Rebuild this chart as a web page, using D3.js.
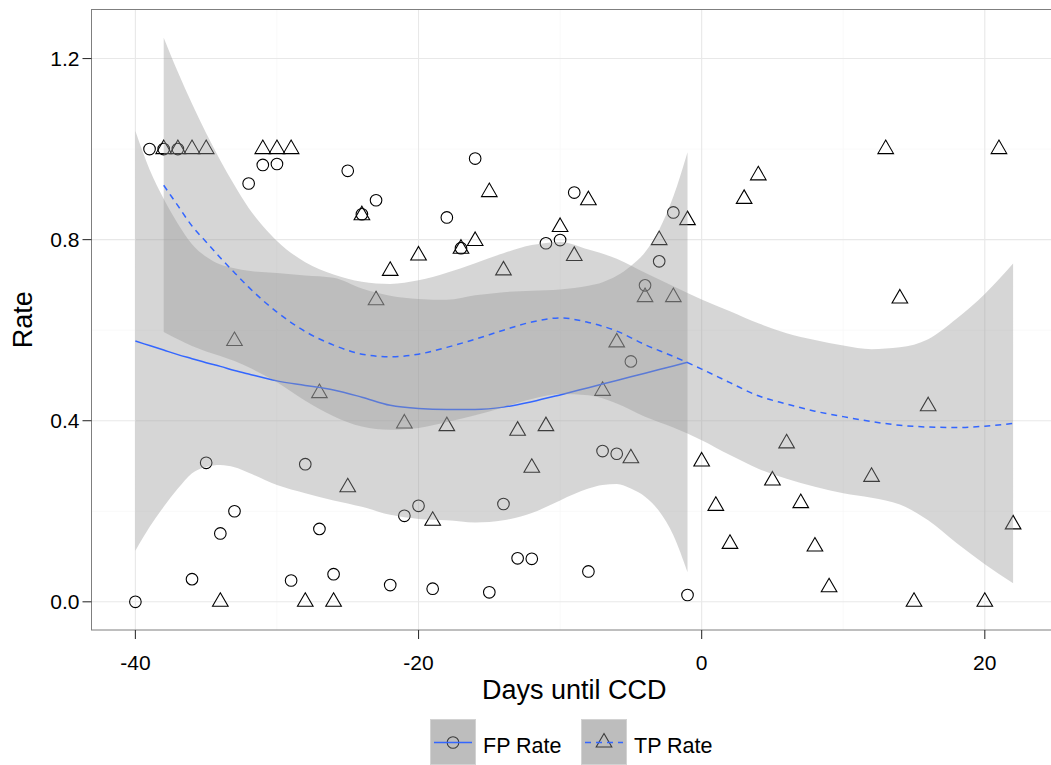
<!DOCTYPE html>
<html>
<head>
<meta charset="utf-8">
<script src="https://cdn.jsdelivr.net/npm/d3@7"></script>
<style>
  body { margin: 0; background: #ffffff; }
  text { font-family: "Liberation Sans", Arial, sans-serif; fill: #000; }
</style>
</head>
<body>
<svg id="chart" width="1051" height="765"></svg>
<script>
// Observed daily rates
const fpDays = [-40,-39,-38,-37,-36,-35,-34,-33,-32,-31,-30,-29,-28,-27,-26,-25,-24,-23,-22,-21,
                -20,-19,-18,-17,-16,-15,-14,-13,-12,-11,-10,-9,-8,-7,-6,-5,-4,-3,-2,-1];
const fpRate = [0,1,1,1,0.05,0.307,0.151,0.2,0.924,0.965,0.967,0.047,0.304,0.161,0.061,0.952,0.856,0.887,0.037,0.19,
                0.212,0.029,0.849,0.781,0.979,0.021,0.216,0.096,0.095,0.792,0.799,0.904,0.067,0.333,0.327,0.531,0.699,0.752,0.86,0.015];

const tpDays = [-38,-37,-36,-35,-34,-33,-31,-30,-29,-28,-27,-26,-25,-24,-23,-22,-21,-20,-19,-18,
                -17,-16,-15,-14,-13,-12,-11,-10,-9,-8,-7,-6,-5,-4,-3,-2,-1,0,1,2,
                3,4,5,6,7,8,9,12,13,14,15,16,20,21,22];
const tpRate = [1,1,1,1,0,0.576,1,1,1,0,0.461,0,0.253,0.854,0.666,0.731,0.394,0.765,0.179,0.388,
                0.78,0.797,0.905,0.732,0.378,0.296,0.388,0.828,0.764,0.887,0.466,0.573,0.317,0.673,0.799,0.673,0.843,0.31,0.212,0.128,
                0.89,0.942,0.268,0.35,0.218,0.122,0.032,0.276,1,0.67,0,0.432,0,1,0.171];

// Loess fits with confidence bands
const fpSmoothDays = [-40,-39,-38,-37,-36,-35,-34,-33,-32,-30,-28,-26,-24,-22,-20,-18,-16,-14,-12,-10,-8,-7,-6,-5,-4,-3,-2,-1];
const fpFit   = [0.576,0.566,0.556,0.546,0.537,0.528,0.52,0.511,0.503,0.488,0.478,0.468,0.452,0.434,0.427,0.425,0.425,0.43,0.442,0.457,0.473,0.481,0.489,0.497,0.505,0.513,0.521,0.529];
const fpUpper = [1.04,0.955,0.89,0.835,0.79,0.762,0.745,0.737,0.731,0.726,0.721,0.716,0.692,0.676,0.669,0.667,0.677,0.684,0.687,0.69,0.698,0.706,0.72,0.742,0.772,0.822,0.895,0.993];
const fpLower = [0.113,0.165,0.21,0.25,0.284,0.298,0.302,0.297,0.285,0.258,0.24,0.224,0.21,0.192,0.183,0.18,0.175,0.18,0.196,0.224,0.25,0.258,0.26,0.25,0.232,0.2,0.147,0.065];

const tpSmoothDays = [-38,-37,-36,-35,-34,-33,-32,-31,-30,-28,-26,-24,-22,-20,-18,-16,-14,-12,-10,-8,-6,-4,-2,0,2,4,6,8,10,12,14,16,18,20,22];
const tpFit   = [0.92,0.875,0.83,0.795,0.76,0.727,0.695,0.666,0.64,0.597,0.567,0.547,0.541,0.547,0.562,0.58,0.6,0.618,0.627,0.617,0.598,0.568,0.542,0.514,0.484,0.455,0.437,0.421,0.409,0.398,0.39,0.386,0.385,0.388,0.394];
const tpUpper = [1.246,1.17,1.1,1.035,0.975,0.92,0.87,0.83,0.797,0.75,0.723,0.707,0.702,0.71,0.727,0.748,0.77,0.788,0.795,0.778,0.758,0.727,0.697,0.668,0.642,0.615,0.593,0.578,0.566,0.558,0.562,0.58,0.625,0.68,0.747];
const tpLower = [0.596,0.58,0.565,0.553,0.543,0.532,0.518,0.502,0.485,0.444,0.41,0.387,0.38,0.384,0.397,0.412,0.43,0.448,0.459,0.456,0.438,0.409,0.385,0.357,0.324,0.294,0.272,0.254,0.24,0.23,0.215,0.18,0.13,0.083,0.041];

const xTicks = [-40,-20,0,20];
const xTickLabels = ["-40","-20","0","20"];
const xMinor = [-30,-10,10];
const yTicks = [0,0.4,0.8,1.2];
const yTickLabels = ["0.0","0.4","0.8","1.2"];
const yMinor = [0.2,0.6,1.0];
const seriesNames = ["FP Rate","TP Rate"];

// Layout
const panel = {left: 91.5, top: 9.5, right: 1057, bottom: 630};
const svg = d3.select("#chart");

// Domains with 5% expansion around the data and bands
function expand(ext) { const d = (ext[1]-ext[0])*0.05; return [ext[0]-d, ext[1]+d]; }
const xExt = d3.extent(fpDays.concat(tpDays));
const yExt = d3.extent(fpRate.concat(tpRate, fpUpper, tpUpper, fpLower, tpLower));
const x = d3.scaleLinear().domain(expand(xExt)).range([panel.left, panel.right]);
const y = d3.scaleLinear().domain(expand([Math.min(0,yExt[0]), yExt[1]])).range([panel.bottom, panel.top]);

svg.append("defs").append("clipPath").attr("id","clip")
  .append("rect").attr("x",panel.left).attr("y",panel.top)
  .attr("width",panel.right-panel.left).attr("height",panel.bottom-panel.top);

const plot = svg.append("g").attr("clip-path","url(#clip)");
plot.append("rect").attr("x",panel.left).attr("y",panel.top)
  .attr("width",panel.right-panel.left).attr("height",panel.bottom-panel.top).attr("fill","#fff");

// Grid
plot.selectAll(".xminor").data(xMinor).join("line")
  .attr("x1",d=>x(d)).attr("x2",d=>x(d)).attr("y1",panel.top).attr("y2",panel.bottom)
  .attr("stroke","#f7f7f7").attr("stroke-width",0.8);
plot.selectAll(".yminor").data(yMinor).join("line")
  .attr("y1",d=>y(d)).attr("y2",d=>y(d)).attr("x1",panel.left).attr("x2",panel.right)
  .attr("stroke","#f7f7f7").attr("stroke-width",0.8);
plot.selectAll(".xmajor").data(xTicks).join("line")
  .attr("x1",d=>x(d)).attr("x2",d=>x(d)).attr("y1",panel.top).attr("y2",panel.bottom)
  .attr("stroke","#e8e8e8").attr("stroke-width",1.1);
plot.selectAll(".ymajor").data(yTicks).join("line")
  .attr("y1",d=>y(d)).attr("y2",d=>y(d)).attr("x1",panel.left).attr("x2",panel.right)
  .attr("stroke","#e8e8e8").attr("stroke-width",1.1);

// Points
const S = 5.8;
function triPath(s) {
  const r = 1.5551*s, xc = 1.3468*s, yc = 0.7776*s;
  return `M0,${-r}L${xc},${yc}L${-xc},${yc}Z`;
}
const fpPts = fpDays.map((d,i)=>({d, v: fpRate[i]}));
const tpPts = tpDays.map((d,i)=>({d, v: tpRate[i]}));
plot.append("g").selectAll("circle").data(fpPts).join("circle")
  .attr("cx",p=>x(p.d)).attr("cy",p=>y(p.v)).attr("r",S)
  .attr("fill","none").attr("stroke","#000").attr("stroke-width",1.1);
plot.append("g").selectAll("path").data(tpPts).join("path")
  .attr("transform",p=>`translate(${x(p.d)},${y(p.v)})`).attr("d",triPath(S))
  .attr("fill","none").attr("stroke","#000").attr("stroke-width",1.1).attr("stroke-linejoin","miter");

// Smooths: ribbon then line for each series
function smooth(days, fit, lo, hi, dash) {
  const rows = days.map((d,i)=>({d, f: fit[i], lo: lo[i], hi: hi[i]}));
  const area = d3.area().curve(d3.curveMonotoneX)
    .x(r=>x(r.d)).y0(r=>y(r.lo)).y1(r=>y(r.hi));
  const line = d3.line().curve(d3.curveMonotoneX).x(r=>x(r.d)).y(r=>y(r.f));
  plot.append("path").datum(rows).attr("d",area).attr("fill","#999999").attr("fill-opacity",0.4);
  plot.append("path").datum(rows).attr("d",line).attr("fill","none")
    .attr("stroke","#3366FF").attr("stroke-width",1.5)
    .attr("stroke-dasharray", dash ? "6,5" : null);
}
smooth(fpSmoothDays, fpFit, fpLower, fpUpper, false);
smooth(tpSmoothDays, tpFit, tpLower, tpUpper, true);

// Panel border
svg.append("rect").attr("x",panel.left).attr("y",panel.top)
  .attr("width",panel.right-panel.left).attr("height",panel.bottom-panel.top)
  .attr("fill","none").attr("stroke","#7f7f7f").attr("stroke-width",1);

// Axes
const yAxis = svg.append("g");
yAxis.selectAll("line").data(yTicks).join("line")
  .attr("x1",panel.left-9).attr("x2",panel.left).attr("y1",d=>y(d)).attr("y2",d=>y(d))
  .attr("stroke","#333").attr("stroke-width",1.1);
yAxis.selectAll("text").data(yTicks).join("text")
  .attr("x",panel.left-12).attr("y",d=>y(d)).attr("dy","0.36em")
  .attr("text-anchor","end").attr("font-size",21).text((d,i)=>yTickLabels[i]);

const xAxis = svg.append("g");
xAxis.selectAll("line").data(xTicks).join("line")
  .attr("x1",d=>x(d)).attr("x2",d=>x(d)).attr("y1",panel.bottom).attr("y2",panel.bottom+9)
  .attr("stroke","#333").attr("stroke-width",1.1);
xAxis.selectAll("text").data(xTicks).join("text")
  .attr("x",d=>x(d)).attr("y",670).attr("text-anchor","middle").attr("font-size",21)
  .text((d,i)=>xTickLabels[i]);

svg.append("text").attr("x",(panel.left+panel.right)/2).attr("y",699)
  .attr("text-anchor","middle").attr("font-size",27).text("Days until CCD");
svg.append("text").attr("transform",`translate(32,${(panel.top+panel.bottom)/2}) rotate(-90)`)
  .attr("text-anchor","middle").attr("font-size",27).text("Rate");

// Legend
const keyW = 46, keyH = 46, keyTop = 719;
const keyX = [430, 581];
const legend = svg.append("g");
seriesNames.forEach((name, i) => {
  const g = legend.append("g").attr("transform",`translate(${keyX[i]},${keyTop})`);
  g.append("rect").attr("x",0.5).attr("y",0.5).attr("width",keyW-1).attr("height",keyH-1)
    .attr("fill","#bdbdbd").attr("stroke","#d2d2d2").attr("stroke-width",1);
  const cx = keyW/2, cy = 23.5;
  if (i === 0) {
    g.append("circle").attr("cx",cx).attr("cy",cy).attr("r",S)
      .attr("fill","none").attr("stroke","#3a3a3a").attr("stroke-width",1.1);
  } else {
    g.append("path").attr("transform",`translate(${cx},${cy})`).attr("d",triPath(S))
      .attr("fill","none").attr("stroke","#3a3a3a").attr("stroke-width",1.1);
  }
  g.append("line").attr("x1",4).attr("x2",keyW-4).attr("y1",cy).attr("y2",cy)
    .attr("stroke","#3366FF").attr("stroke-width",1.5)
    .attr("stroke-dasharray", i === 1 ? "6,5" : null);
  legend.append("text").attr("x",keyX[i]+keyW+7).attr("y",753)
    .attr("font-size",21.5).text(name);
});
</script>
</body>
</html>
